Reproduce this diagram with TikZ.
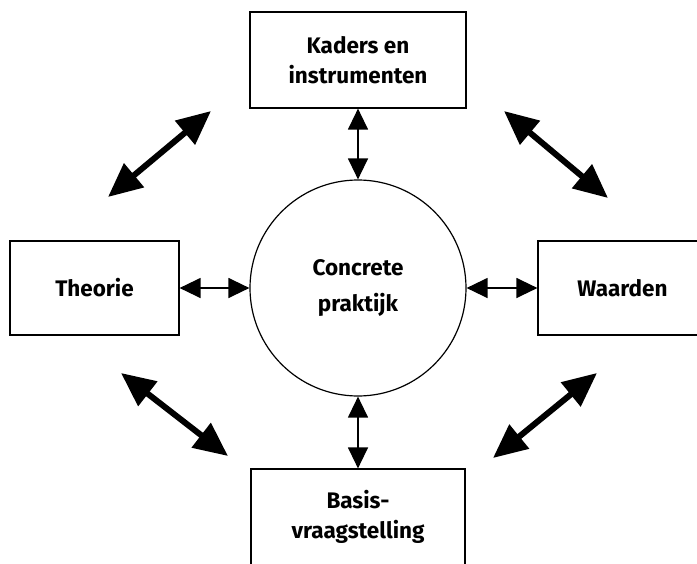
\documentclass[tikz,border=0pt]{standalone}
\usepackage{fontspec}
\setmainfont{Fira Sans}
\usetikzlibrary{arrows.meta}

\begin{document}
\begin{tikzpicture}[
    x=1pt, y=-1pt,
    block/.style={rectangle, draw=black, line width=1.2pt, fill=white, align=center, font=\fontsize{22.5}{30}\selectfont\bfseries},
    hub/.style={circle, draw=black, line width=1.2pt, minimum size=216pt, inner sep=0pt, align=center, font=\fontsize{22.5}{36}\selectfont\bfseries},
    link/.style={{Triangle[length=21pt, width=20pt]}-{Triangle[length=21pt, width=20pt]}, line width=1.3pt},
    bigarrow/.style={{Triangle[length=34pt, width=30pt]}-{Triangle[length=34pt, width=30pt]}, line width=6pt}
]
\useasboundingbox (0,0) rectangle (697,563);

% Centre
\node[hub] (praktijk) at (358, 288) {Concrete\\praktijk};

% Four blocks round the centre
\node[block, minimum width=216pt, minimum height=96pt] (kaders) at (358, 60) {Kaders en\\instrumenten};
\node[block, minimum width=169pt, minimum height=94pt] (theorie) at (94.5, 288) {Theorie};
\node[block, minimum width=169pt, minimum height=94pt] (waarden) at (622.5, 288) {Waarden};
\node[block, minimum width=214pt, minimum height=96pt] (basis) at (358, 517) {Basis-\\vraagstelling};

% Links between blocks and centre
\draw[link] (kaders) -- (praktijk);
\draw[link] (theorie) -- (praktijk);
\draw[link] (waarden) -- (praktijk);
\draw[link] (basis) -- (praktijk);

% Free diagonal arrows
\coordinate (tl1) at (108, 197);
\coordinate (tl2) at (211, 111);
\coordinate (tr1) at (504, 111);
\coordinate (tr2) at (608, 198);
\coordinate (bl1) at (121, 373);
\coordinate (bl2) at (228, 456);
\coordinate (br1) at (493, 458);
\coordinate (br2) at (597, 373);

\draw[bigarrow] (tl1) -- (tl2);
\draw[bigarrow] (tr1) -- (tr2);
\draw[bigarrow] (bl1) -- (bl2);
\draw[bigarrow] (br1) -- (br2);

\end{tikzpicture}
\end{document}
